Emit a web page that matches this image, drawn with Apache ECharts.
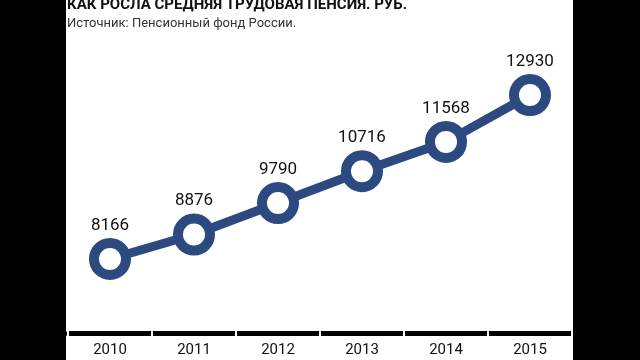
<!DOCTYPE html>
<html>
<head>
<meta charset="utf-8">
<script src="https://cdn.jsdelivr.net/npm/echarts@6/dist/echarts.min.js"></script>
<style>
html,body{margin:0;padding:0;background:#000;}
#main{width:640px;height:360px;}
</style>
</head>
<body>
<div id="main"></div>
<script>
var titleText = 'КАК РОСЛА СРЕДНЯЯ ТРУДОВАЯ ПЕНСИЯ. РУБ.';
var sourceText = 'Источник: Пенсионный фонд России.';
var years = ['2010', '2011', '2012', '2013', '2014', '2015'];
var pension = [8166, 8876, 9790, 10716, 11568, 12930];

var navy = '#2c4a80';
var chart = echarts.init(document.getElementById('main'), null, {renderer: 'canvas'});
chart.setOption({
  animation: false,
  backgroundColor: '#000',
  graphic: [
    {type: 'rect', z: -10, silent: true, shape: {x: 66, y: 0, width: 507, height: 360}, style: {fill: '#fff'}}
  ],
  title: [
    {text: titleText, left: 67, top: -2, padding: 0,
     textStyle: {fontFamily: 'Roboto', fontWeight: 'bold', fontSize: 15, color: '#111'}},
    {text: sourceText, left: 67, top: 17, padding: 0,
     textStyle: {fontFamily: 'Roboto', fontWeight: 'normal', fontSize: 13, color: '#333'}}
  ],
  grid: {left: 68, right: 68, top: 41, bottom: 26.5},
  xAxis: [
    {type: 'category', data: years, position: 'bottom', boundaryGap: true,
     axisLine: {show: true, lineStyle: {color: '#000', width: 5}},
     axisTick: {show: true, interval: 0, length: 4, lineStyle: {color: '#fff', width: 2}},
     axisLabel: {margin: 9, fontFamily: 'Roboto', fontSize: 15, color: '#111'},
     splitLine: {show: false}},
    {type: 'category', data: years, position: 'bottom', boundaryGap: true,
     axisLine: {show: false},
     axisTick: {show: true, inside: true, interval: 0, length: 4, lineStyle: {color: '#fff', width: 2}},
     axisLabel: {show: false},
     splitLine: {show: false}}
  ],
  yAxis: {type: 'value', min: 6000, max: 14500, show: false, splitLine: {show: false}},
  series: [{
    type: 'line',
    xAxisIndex: 0,
    data: pension,
    symbol: 'circle',
    symbolSize: 32,
    lineStyle: {color: navy, width: 9},
    itemStyle: {color: '#fff', borderColor: navy, borderWidth: 10},
    label: {show: true, position: 'top', distance: 4, fontFamily: 'Roboto', fontSize: 17, color: '#111'},
    z: 5
  }]
});
</script>
</body>
</html>
